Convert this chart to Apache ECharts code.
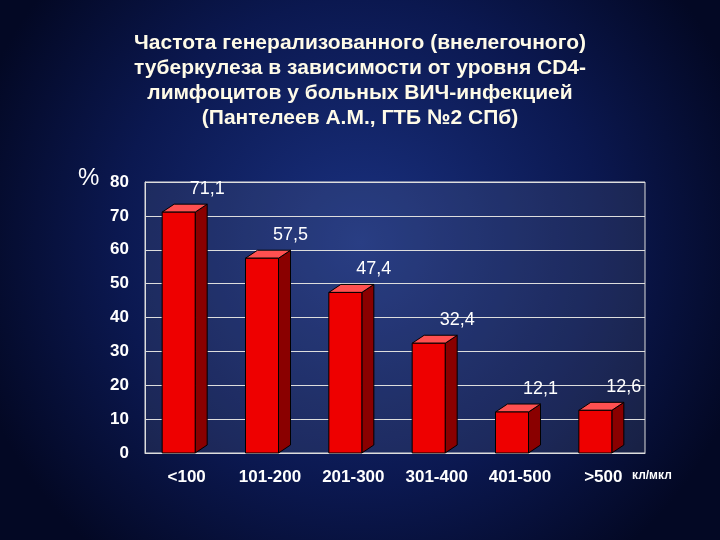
<!DOCTYPE html>
<html><head><meta charset="utf-8">
<script src="https://cdn.jsdelivr.net/npm/echarts@6/dist/echarts.min.js"></script>
<style>html,body{margin:0;padding:0;}#c{width:720px;height:540px;}</style>
</head><body><div id="c"></div>
<script>
const categories = ['<100','101-200','201-300','301-400','401-500','>500'];
const values = [71.1, 57.5, 47.4, 32.4, 12.1, 12.6];
const valueLabels = ['71,1','57,5','47,4','32,4','12,1','12,6'];

const chart = echarts.init(document.getElementById('c'));
const DX = 12, DY = -8, SHIFT = -8, W = 33;
chart.setOption({
  backgroundColor: {type:'radial', x:0.5, y:0.45, r:0.75,
    colorStops:[{offset:0,color:'#1a3180'},{offset:0.6,color:'#0b1850'},{offset:1,color:'#030824'}]},
  title: {
    text: 'Частота генерализованного (внелегочного)\nтуберкулеза в зависимости от уровня CD4-\nлимфоцитов у больных ВИЧ-инфекцией\n(Пантелеев А.М., ГТБ №2 СПб)',
    left: 'center', top: 26,
    textStyle: {color:'#fffbe8', fontFamily:'Liberation Sans, Arial', fontSize:21, fontWeight:'bold', lineHeight:25}
  },
  graphic: [
    {type:'text', left:78, top:166, style:{text:'%', fill:'#fff', font:'24px Liberation Sans'}},
    {type:'text', left:632, top:470, style:{text:'кл/мкл', fill:'#fff', font:'bold 12px Liberation Sans'}}
  ],
  grid: {left:145, right:75, top:182, bottom:87, show:true, backgroundColor:'rgba(110,120,150,0.18)', borderColor:'#ddd', borderWidth:1},
  xAxis: {type:'category', data:categories, axisTick:{show:false},
    axisLine:{lineStyle:{color:'#ddd'}},
    axisLabel:{color:'#fff', fontSize:17, fontWeight:'bold', fontFamily:'Liberation Sans', margin:16, interval:0}},
  yAxis: {type:'value', min:0, max:80, interval:10,
    splitLine:{lineStyle:{color:'#ddd'}}, axisLine:{show:true, lineStyle:{color:'#ddd'}},
    axisLabel:{color:'#fff', fontSize:17, fontWeight:'bold', fontFamily:'Liberation Sans', margin:16}},
  series: [{
    type:'custom',
    data: values.map((v,i)=>[i,v]),
    renderItem: function(params, api){
      const top = api.coord([api.value(0), api.value(1)]);
      const base = api.coord([api.value(0), 0]);
      const x0 = top[0] + SHIFT - W/2, x1 = x0 + W;
      const y0 = top[1], y1 = base[1];
      return {type:'group', children:[
        {type:'polygon', shape:{points:[[x1,y0],[x1+DX,y0+DY],[x1+DX,y1+DY],[x1,y1]]}, style:{fill:'#8a0000', stroke:'#000', lineWidth:1}},
        {type:'polygon', shape:{points:[[x0,y0],[x0+DX,y0+DY],[x1+DX,y0+DY],[x1,y0]]}, style:{fill:'#ff5050', stroke:'#000', lineWidth:1}},
        {type:'rect', shape:{x:x0, y:y0, width:W, height:y1-y0}, style:{fill:'#ee0000', stroke:'#000', lineWidth:1}},
        {type:'text', style:{text:valueLabels[params.dataIndex], x:x1+DX, y:y0+DY-6, textAlign:'center', textVerticalAlign:'bottom', fill:'#fff', font:'18px Liberation Sans'}}
      ]};
    }
  }]
});
</script></body></html>
